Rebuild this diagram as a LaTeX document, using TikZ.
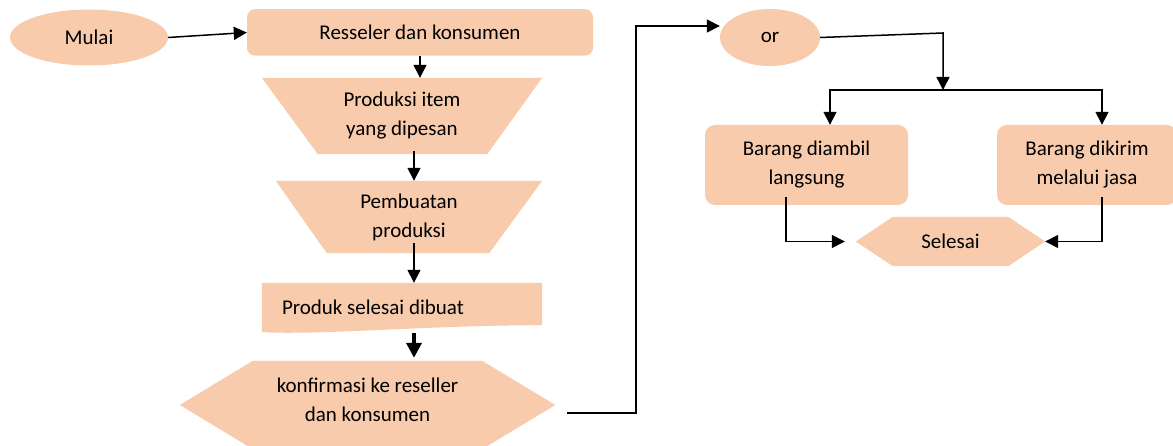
\documentclass[tikz,border=0pt]{standalone}
\usepackage{fontspec}
\setmainfont{Carlito}
\usetikzlibrary{arrows.meta, shapes.geometric, backgrounds, calc}
\definecolor{peach}{HTML}{F8CBAD}

\begin{document}
\begin{tikzpicture}[x=1pt, y=-1pt,
		every node/.style={font=\fontsize{21}{29}\selectfont, inner sep=0pt, align=center},
		flowbox/.style={fill=peach, rounded corners=#1},
		flowbox/.default=8pt,
		oval/.style={ellipse, fill=peach},
		arr/.style={-{Triangle[length=13pt, width=13pt]}, line width=1.5pt}]
	\useasboundingbox (0,0) rectangle (1173,446);
	% left column
	\node[oval, minimum width=158, minimum height=56] (mulai) at (89,37.5) {\raisebox{-3pt}{Mulai}};
	\node[flowbox, minimum width=346, minimum height=46.5] (res) at (420,32.5) {Resseler dan konsumen};
	\node[minimum width=280, minimum height=76] (prod) at (402,116) {Produksi item\\yang dipesan};
	\node[minimum width=266, minimum height=72] (buat) at (409,217) {Pembuatan\\produksi};
	\node[minimum width=280, minimum height=44,
		label={[anchor=west, xshift=20pt, yshift=-2pt]west:Produk selesai dibuat}] (doc) at (402,305) {};
	\node[minimum width=375, minimum height=88] (konf) at (367.5,400) {konfirmasi ke reseller\\dan konsumen};
	% right part
	\node[oval, minimum width=100, minimum height=57] (orr) at (770,37.5) {\raisebox{-3pt}{or}};
	\node[flowbox=10pt, minimum width=203, minimum height=80] (ambil) at (806.5,165) {Barang diambil\\langsung};
	\node[flowbox=10pt, minimum width=180, minimum height=80] (kirim) at (1087,165) {Barang dikirim\\melalui jasa};
	\node[minimum width=189, minimum height=49] (selesai) at (950.5,241.5) {Selesai};
	% shapes behind the texts
	\begin{scope}[on background layer]
		\fill[peach] (prod.north west) -- (prod.north east) -- ([xshift=-55pt]prod.south east) -- ([xshift=56pt]prod.south west) -- cycle;
		\fill[peach] (buat.north west) -- (buat.north east) -- ([xshift=-53pt]buat.south east) -- ([xshift=51pt]buat.south west) -- cycle;
		\fill[peach] (doc.north west) -- (doc.north east) -- ([yshift=2pt]doc.south east)
			.. controls ([xshift=-110pt,yshift=2pt]doc.south east) and ([xshift=60pt,yshift=-8pt]doc.south west) .. ([yshift=-5pt]doc.south west) -- cycle;
		\fill[peach] ([yshift=-5pt]konf.west) -- ([xshift=73pt,yshift=-5pt]konf.north west) -- ([xshift=-73pt,yshift=-5pt]konf.north east)
			-- ([yshift=-5pt]konf.east) -- ([xshift=-73pt,yshift=-5pt]konf.south east) -- ([xshift=73pt,yshift=-5pt]konf.south west) -- cycle;
		\fill[peach] (selesai.west) -- ([xshift=37pt]selesai.north west) -- ([xshift=-37pt]selesai.north east)
			-- (selesai.east) -- ([xshift=-37pt]selesai.south east) -- ([xshift=37pt]selesai.south west) -- cycle;
	\end{scope}
	% connectors
	\coordinate (col) at (414,0);
	\coordinate (konfout) at (567,413);
	\coordinate (split) at (943,90);
	\draw[arr] (mulai.east) -- (res.west);
	\draw[arr] (res.south) -- (res.south |- prod.north);
	\draw[arr] ($(prod.south -| col)+(0,-3)$) -- (buat.north -| col);
	\draw[arr] ($(buat.south -| col)+(0,-10)$) -- (doc.north -| col);
	\draw[-{Triangle[length=15pt, width=15pt]}, line width=4pt] ($(doc.south -| col)+(0,6)$) -- ($(konf.north -| col)+(0,2)$);
	\draw[arr] (konfout) -- ++(69,0) |- ([yshift=11.5pt]orr.west);
	\draw[arr] (orr.east) -- (split |- 0,33) -- (split);
	\draw[arr] (split) -| ([xshift=23.5pt]ambil.north);
	\draw[arr] (split) -| ([xshift=15pt]kirim.north);
	\draw[arr] ([xshift=-20.5pt,yshift=8pt]ambil.south) |- ([xshift=-11pt]selesai.west);
	\draw[arr] ([xshift=15pt,yshift=8pt]kirim.south) |- (selesai.east);
\end{tikzpicture}
\end{document}
